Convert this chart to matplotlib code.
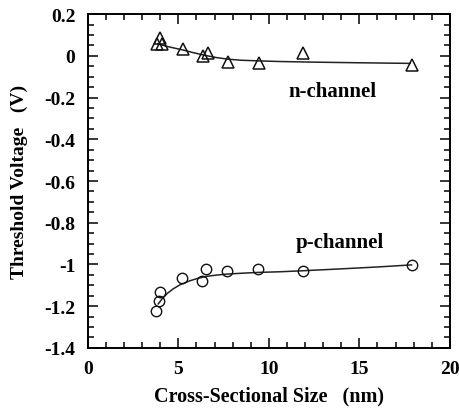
import matplotlib
matplotlib.use('Agg')
import matplotlib.pyplot as plt
from matplotlib.ticker import MultipleLocator

# n-channel measurements (triangles)
n_size = [3.8, 3.98, 4.07, 5.27, 6.37, 6.65, 7.75, 9.47, 11.9, 17.93]
n_vt = [0.056, 0.088, 0.056, 0.032, 0.0, 0.012, -0.028, -0.036, 0.012, -0.043]

# p-channel measurements (circles)
p_size = [3.76, 3.94, 3.98, 5.22, 6.28, 6.55, 7.7, 9.41, 11.9, 17.88]
p_vt = [-1.221, -1.173, -1.133, -1.066, -1.081, -1.022, -1.033, -1.022, -1.03, -1.002]

# fitted curves
n_fit_x = [3.87, 4.3, 4.8, 5.27, 5.8, 6.5, 7.1, 7.75, 8.5, 9.47, 10.6, 12.5, 15.0, 17.8]
n_fit_y = [0.058, 0.047, 0.037, 0.028, 0.016, 0.002, -0.008, -0.016, -0.021, -0.024, -0.027, -0.030, -0.033, -0.036]
p_fit_x = [3.89, 4.1, 4.4, 4.71, 5.1, 5.64, 6.1, 6.55, 7.1, 7.7, 8.5, 9.41, 10.6, 11.9, 14.0, 16.0, 17.88]
p_fit_y = [-1.189, -1.165, -1.138, -1.117, -1.097, -1.078, -1.066, -1.057, -1.051, -1.046, -1.042, -1.038, -1.035, -1.030, -1.021, -1.012, -1.002]

plt.rcParams['font.family'] = ['Liberation Serif', 'DejaVu Serif']
plt.rcParams['font.weight'] = 'bold'

fig = plt.figure(figsize=(4.6, 4.1), dpi=100)
ax = fig.add_axes([0.191, 0.149, 0.787, 0.814])

ax.plot(n_fit_x, n_fit_y, color='#222222', lw=1.1)
ax.plot(p_fit_x, p_fit_y, color='#222222', lw=1.1)
ax.plot(n_size, n_vt, ls='none', marker='^', ms=9, mfc='none', mec='#111111', mew=1.1)
ax.plot(p_size, p_vt, ls='none', marker='o', ms=7.5, mfc='none', mec='#111111', mew=1.0)

ax.text(13.5, -0.17, 'n-channel', fontsize=15, fontweight='bold', ha='center', va='center')
ax.text(13.9, -0.89, 'p-channel', fontsize=15, fontweight='bold', ha='center', va='center')

ax.set_xlim(0, 20)
ax.set_ylim(-1.4, 0.2)
ax.xaxis.set_major_locator(MultipleLocator(5))
ax.xaxis.set_minor_locator(MultipleLocator(1))
ax.yaxis.set_minor_locator(MultipleLocator(0.05))
ax.set_yticks([0.2, 0, -0.2, -0.4, -0.6, -0.8, -1, -1.2, -1.4])
ax.set_yticklabels(['0.2', '0', '-0.2', '-0.4', '-0.6', '-0.8', '-1', '-1.2', '-1.4'])

ax.tick_params(which='both', direction='in', top=True, right=True, labelsize=14, width=1.1)
ax.tick_params(which='major', length=7)
ax.tick_params(which='minor', length=4)
ax.tick_params(axis='x', pad=9)
ax.tick_params(axis='y', pad=9)
for sp in ax.spines.values():
    sp.set_linewidth(1.4)

ax.set_xlabel('Cross-Sectional Size   (nm)', fontsize=14.5, fontweight='bold', labelpad=6)
ax.set_ylabel('Threshold Voltage   (V)', fontsize=14, fontweight='bold', labelpad=12)

fig.savefig('out.png', dpi=100)
